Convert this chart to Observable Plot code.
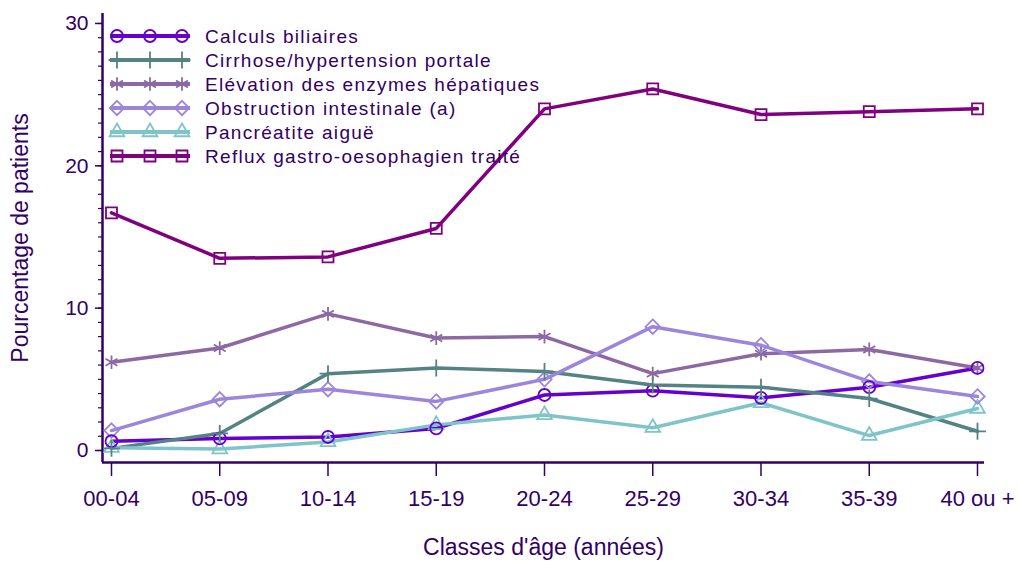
<!DOCTYPE html>
<html>
<head>
<meta charset="utf-8">
<script src="https://cdn.jsdelivr.net/npm/d3@7"></script>
<script src="https://cdn.jsdelivr.net/npm/@observablehq/plot@0.6"></script>
<style>
  body { margin: 0; background: #ffffff; font-family: "Liberation Sans", Arial, sans-serif; }
  #wrap { width: 1019px; height: 561px; }
</style>
</head>
<body>
<div id="wrap"></div>
<script>
// ---- Data ----
const categories = ["00-04", "05-09", "10-14", "15-19", "20-24", "25-29", "30-34", "35-39", "40 ou +"];
const seriesNames = [
  "Calculs biliaires",
  "Cirrhose/hypertension portale",
  "Elévation des enzymes hépatiques",
  "Obstruction intestinale (a)",
  "Pancréatite aiguë",
  "Reflux gastro-oesophagien traité"
];
const calculs     = [0.65, 0.85, 0.95, 1.55, 3.9, 4.2, 3.7, 4.45, 5.8];
const cirrhose    = [0.15, 1.2, 5.4, 5.8, 5.55, 4.6, 4.45, 3.65, 1.35];
const elevation   = [6.2, 7.2, 9.6, 7.9, 8.0, 5.4, 6.8, 7.1, 5.8];
const obstruction = [1.4, 3.6, 4.3, 3.45, 5.0, 8.7, 7.4, 4.85, 3.8];
const pancreatite = [0.2, 0.1, 0.6, 1.8, 2.5, 1.6, 3.35, 1.05, 2.95];
const reflux      = [16.7, 13.5, 13.6, 15.6, 24.0, 25.4, 23.6, 23.8, 24.0];
const seriesValues = [calculs, cirrhose, elevation, obstruction, pancreatite, reflux];
const yMajorTicks = [0, 10, 20, 30];
const yMinorTicks = d3.range(0, 31);
const xTitle = "Classes d'âge (années)";
const yTitle = "Pourcentage de patients";

// ---- Styles ----
const colors = ["#6600cc", "#558383", "#8c69a3", "#9b86dc", "#7fc4c9", "#800080"];
const symbolNames = ["circle", "plus", "asterisk", "diamond2", "triangle2", "square2"];
const symbolRadius = [6, 5.5, 6.5, 6.5, 7, 7];
const d3Symbols = {
  circle: d3.symbolCircle, plus: d3.symbolPlus, asterisk: d3.symbolAsterisk,
  diamond2: d3.symbolDiamond2, triangle2: d3.symbolTriangle2, square2: d3.symbolSquare2
};
const ink = "#330066";
const font = "Liberation Sans, Arial, sans-serif";

const rows = [];
seriesNames.forEach((s, i) => seriesValues[i].forEach((v, j) => rows.push({ idx: j, series: s, value: v, r: symbolRadius[i] })));

const xDomain = [-0.0831, 8.0647];
const yDomain = [-0.843, 30.70];

const chart = Plot.plot({
  width: 1019,
  height: 561,
  marginLeft: 102,
  marginRight: 35,
  marginTop: 13,
  marginBottom: 99,
  style: { fontFamily: font, background: "#ffffff", color: ink, overflow: "visible" },
  x: { domain: xDomain, axis: null },
  y: { domain: yDomain, axis: null },
  r: { type: "identity" },
  color: { domain: seriesNames, range: colors },
  symbol: { domain: seriesNames, range: symbolNames },
  marks: [
    Plot.ruleY([yDomain[0]], { stroke: ink, strokeWidth: 2.5 }),
    Plot.ruleX([xDomain[0]], { stroke: ink, strokeWidth: 2.5 }),
    Plot.axisX({ ticks: d3.range(categories.length), tickFormat: i => categories[i], tickSize: 14, tickPadding: 14, fontSize: 22, label: null, stroke: ink, strokeWidth: 1.5, fill: ink }),
    Plot.axisY({ ticks: yMajorTicks, tickSize: 7, tickPadding: 7, fontSize: 21, label: null, stroke: ink, strokeWidth: 1.5, fill: ink }),
    Plot.axisY({ ticks: yMinorTicks, tickSize: 4, text: null, label: null, stroke: ink, strokeWidth: 1.2 }),
    Plot.line(rows, { x: "idx", y: "value", z: "series", stroke: "series", strokeWidth: 3.5, strokeLinejoin: "round" }),
    Plot.dot(rows, { x: "idx", y: "value", symbol: "series", stroke: "series", r: "r", fill: "none", strokeWidth: 1.8 }),
    Plot.text([xTitle], { frameAnchor: "bottom", dy: 92, fontSize: 23, fill: ink, style: "letter-spacing:0.8px" }),
    Plot.text([yTitle], { frameAnchor: "left", textAnchor: "middle", dx: -82, rotate: -90, fontSize: 23, fill: ink })
  ]
});

// Legend (inside the plot area, top left)
const svg = d3.select(chart);
const lg = svg.append("g").attr("font-family", font).attr("text-anchor", "start");
seriesNames.forEach((s, i) => {
  const y = 36 + 24 * i;
  const g = lg.append("g");
  g.append("line").attr("x1", 110).attr("x2", 190).attr("y1", y).attr("y2", y)
    .style("stroke", colors[i]).style("stroke-width", "4px");
  const sym = d3.symbol(d3Symbols[symbolNames[i]], Math.PI * symbolRadius[i] * symbolRadius[i]);
  [117, 150, 182].forEach(x => {
    g.append("path").attr("d", sym()).attr("transform", `translate(${x},${y})`)
      .style("fill", "none").style("stroke", colors[i]).style("stroke-width", "1.8px");
  });
  g.append("text").attr("x", 205).attr("y", y).attr("dy", "0.36em")
    .attr("text-anchor", "start")
    .style("font-size", "19px").style("letter-spacing", "1.3px").style("fill", ink).text(s);
});

document.getElementById("wrap").appendChild(chart);
</script>
</body>
</html>
